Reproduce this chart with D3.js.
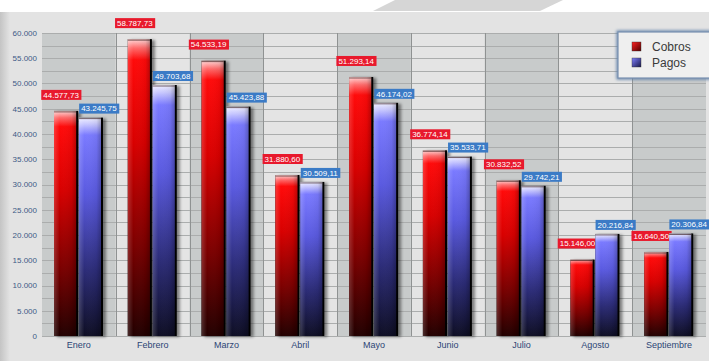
<!DOCTYPE html>
<html><head><meta charset="utf-8">
<script src="https://cdn.jsdelivr.net/npm/d3@7"></script>
<style>html,body{margin:0;padding:0;background:#fff;}svg{display:block;}</style>
</head><body><svg id="c" width="709" height="361"></svg>
<script>
const months = ["Enero","Febrero","Marzo","Abril","Mayo","Junio","Julio","Agosto","Septiembre"];
const seriesNames = ["Cobros","Pagos"];
const cobros = [44577.73,58787.73,54533.19,31880.60,51293.14,36774.14,30832.52,15146.00,16640.50];
const pagos = [43245.75,49703.68,45423.88,30509.11,46174.02,35533.71,29742.21,20216.84,20306.84];
const yTicks = [0,5000,10000,15000,20000,25000,30000,35000,40000,45000,50000,55000,60000];

const svg = d3.select("#c");
const W=709,H=361;
const m={l:42,r:3,t:33,b:25};
const defs = svg.append("defs");

const bgG = defs.append("linearGradient").attr("id","leftStrip").attr("x1",0).attr("x2",1);
bgG.append("stop").attr("offset",0).attr("stop-color","#c4c4c4");
bgG.append("stop").attr("offset",1).attr("stop-color","#e3e3e3");
svg.append("rect").attr("width",W).attr("height",H).attr("fill","#ffffff");
svg.append("rect").attr("x",0).attr("y",12).attr("width",W).attr("height",H-12).attr("fill","#e3e3e3");
svg.append("rect").attr("x",0).attr("y",12).attr("width",10).attr("height",H-12).attr("fill","url(#leftStrip)");
svg.append("path").attr("d","M395,0L563,0L540,11L373,11Z").attr("fill","#d6d6d6");

const fmt = v => {
  const s = v.toFixed(2).split(".");
  return s[0].replace(/\B(?=(\d{3})+(?!\d))/g,".")+","+s[1];
};
const fmtTick = v => String(v).replace(/\B(?=(\d{3})+(?!\d))/g,".");

const x = d3.scaleBand().domain(months).range([m.l, W-m.r]).paddingInner(0).paddingOuter(0);
const y = d3.scaleLinear().domain([0,60000]).range([H-m.b, m.t]);
const x1 = d3.scaleBand().domain(seriesNames).range([12,61]).paddingInner(0.03);

svg.append("g").selectAll("rect").data(months).join("rect")
  .attr("x",d=>x(d)).attr("y",y(60000)).attr("width",x.bandwidth()).attr("height",y(0)-y(60000))
  .attr("fill",(d,i)=> i%2===0 ? "#c8cbcb" : "#e4e4e4");

const gridVals = d3.range(0,60001,2500);
svg.append("g").selectAll("line").data(gridVals).join("line")
  .attr("x1",m.l).attr("x2",W-m.r).attr("y1",d=>Math.round(y(d))+0.5).attr("y2",d=>Math.round(y(d))+0.5)
  .attr("stroke","#abadad").attr("stroke-width",1);
svg.append("g").selectAll("line").data(months.slice(1)).join("line")
  .attr("x1",d=>Math.round(x(d))+0.5).attr("x2",d=>Math.round(x(d))+0.5)
  .attr("y1",y(60000)).attr("y2",y(0)).attr("stroke","#8f9292");

function vgrad(id, stops){
  const g = defs.append("linearGradient").attr("id",id).attr("x1",0).attr("x2",0).attr("y1",0).attr("y2",1);
  stops.forEach(s=>g.append("stop").attr("offset",s[0]).attr("stop-color",s[1]));
}
vgrad("gRed",[[0,"#ffd8d8"],[0.03,"#ff6a6a"],[0.07,"#ff0a0a"],[0.35,"#d80000"],[0.7,"#7a0000"],[1,"#220000"]]);
vgrad("gBlue",[[0,"#f0f0ff"],[0.03,"#c8c8ff"],[0.08,"#7a7aff"],[0.35,"#5a5ae0"],[0.7,"#2c2c78"],[1,"#0e0e24"]]);
const hg = defs.append("linearGradient").attr("id","gShine").attr("x1",0).attr("x2",1);
hg.append("stop").attr("offset",0).attr("stop-color","#fff").attr("stop-opacity",0.18);
hg.append("stop").attr("offset",0.25).attr("stop-color","#fff").attr("stop-opacity",0.0);
hg.append("stop").attr("offset",0.8).attr("stop-color","#000").attr("stop-opacity",0.05);
hg.append("stop").attr("offset",1).attr("stop-color","#000").attr("stop-opacity",0.25);
const f = defs.append("filter").attr("id","sh").attr("x","-20%").attr("y","-5%").attr("width","160%").attr("height","115%");
f.append("feDropShadow").attr("dx",3).attr("dy",1).attr("stdDeviation",1.6).attr("flood-color","#000").attr("flood-opacity",0.45);

const data = months.map((mo,i)=>({mo, vals:[{s:"Cobros",v:cobros[i]},{s:"Pagos",v:pagos[i]}]}));
const grp = svg.append("g").selectAll("g").data(data).join("g").attr("transform",d=>`translate(${x(d.mo)},0)`);
const bars = grp.selectAll("g.b").data(d=>d.vals).join("g").attr("class","b");
bars.append("rect").attr("x",d=>x1(d.s)).attr("y",d=>y(d.v)).attr("width",x1.bandwidth()).attr("height",d=>y(0)-y(d.v))
  .attr("fill","#000").attr("filter","url(#sh)");
bars.append("rect").attr("x",d=>x1(d.s)).attr("y",d=>y(d.v)).attr("width",x1.bandwidth()-2).attr("height",d=>y(0)-y(d.v))
  .attr("fill",d=>d.s==="Cobros"?"url(#gRed)":"url(#gBlue)");
bars.append("rect").attr("x",d=>x1(d.s)).attr("y",d=>y(d.v)).attr("width",x1.bandwidth()-2).attr("height",d=>y(0)-y(d.v))
  .attr("fill","url(#gShine)");
bars.append("rect").attr("x",d=>x1(d.s)).attr("y",d=>y(d.v)+0.5).attr("width",x1.bandwidth()-2).attr("height",1)
  .attr("fill","#200000").attr("opacity",0.6);

const lab = bars.append("g").attr("transform",d=>{
  const cx = x1(d.s)+x1.bandwidth()/2 + (d.s==="Cobros"?-5:8);
  const cy = y(d.v) - (d.s==="Cobros"?16:9);
  return `translate(${cx},${cy})`;
});
lab.append("text").attr("class","vt").attr("text-anchor","middle").attr("dy","0.35em")
  .attr("font-family","Liberation Sans, Arial, sans-serif").attr("font-size",8).attr("fill","#fff")
  .text(d=>fmt(d.v));
lab.each(function(){
  const g=d3.select(this); const t=g.select("text").node().getBBox();
  g.insert("rect","text").attr("x",t.x-2).attr("y",-5).attr("width",t.width+4).attr("height",10)
    .attr("fill",d=>d.s==="Cobros"?"#e8192c":"#3b7bc6");
});

svg.append("g").selectAll("text").data(yTicks).join("text")
  .attr("x",37).attr("y",d=>y(d)).attr("dy","0.35em").attr("text-anchor","end")
  .attr("font-family","Liberation Sans, Arial, sans-serif").attr("font-size",8).attr("fill","#3d5a86")
  .text(fmtTick);
svg.append("g").selectAll("text").data(months).join("text")
  .attr("x",d=>x(d)+x.bandwidth()/2).attr("y",y(0)+12).attr("text-anchor","middle")
  .attr("font-family","Liberation Sans, Arial, sans-serif").attr("font-size",9).attr("fill","#2c4575")
  .text(d=>d);

const lf = defs.append("filter").attr("id","glow").attr("x","-20%").attr("y","-20%").attr("width","140%").attr("height","140%");
lf.append("feGaussianBlur").attr("stdDeviation",1.5);
const lg = svg.append("g");
lg.append("rect").attr("x",618).attr("y",32).attr("width",95).attr("height",46).attr("fill","none")
  .attr("stroke","#5f7fa8").attr("stroke-width",3).attr("filter","url(#glow)");
lg.append("rect").attr("x",618).attr("y",32).attr("width",95).attr("height",46).attr("fill","#efefef")
  .attr("stroke","#7890b0").attr("stroke-width",1.2);
const lgRed = defs.append("linearGradient").attr("id","lr").attr("x1",0).attr("x2",1).attr("y1",0).attr("y2",1);
lgRed.append("stop").attr("offset",0).attr("stop-color","#ff2020");lgRed.append("stop").attr("offset",1).attr("stop-color","#500000");
const lgBlue = defs.append("linearGradient").attr("id","lb").attr("x1",0).attr("x2",1).attr("y1",0).attr("y2",1);
lgBlue.append("stop").attr("offset",0).attr("stop-color","#8080ff");lgBlue.append("stop").attr("offset",1).attr("stop-color","#181848");
const li = lg.selectAll("g").data(seriesNames).join("g").attr("transform",(d,i)=>`translate(632,${42+i*16})`);
li.append("rect").attr("width",9).attr("height",9).attr("fill",(d,i)=>i===0?"url(#lr)":"url(#lb)").attr("stroke","#333").attr("stroke-width",0.4);
li.append("text").attr("x",20).attr("y",4.5).attr("dy","0.35em").attr("font-family","Liberation Sans, Arial, sans-serif")
  .attr("font-size",12).attr("fill","#3a3a3a").text(d=>d);
</script></body></html>
